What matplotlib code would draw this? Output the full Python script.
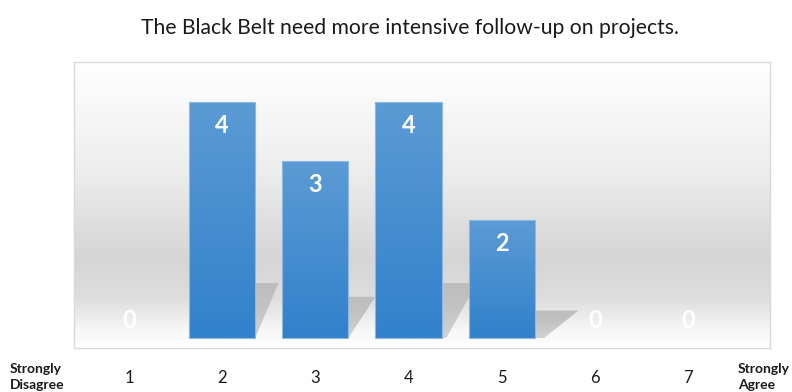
import matplotlib
matplotlib.use("Agg")
import matplotlib.pyplot as plt
import numpy as np
from matplotlib.colors import LinearSegmentedColormap
from matplotlib.patches import Polygon, Rectangle

plt.rcParams["font.family"] = ["Lato", "DejaVu Sans"]

title = "The Black Belt need more intensive follow-up on projects."
scores = [1, 2, 3, 4, 5, 6, 7]
counts = [0, 4, 3, 4, 2, 0, 0]
low_label = "Strongly\nDisagree"
high_label = "Strongly\nAgree"

_FRAME = "#d9d9d9"
_TXT = "#1a1a1a"

fig = plt.figure(figsize=(7.92, 3.92), dpi=100)
ax = fig.add_axes([74 / 792, 1 - 348 / 392, (770 - 74) / 792, (348 - 62) / 392])

ax.set_xlim(0.41, 7.88)
ax.set_ylim(-10 / 59, (338 - 62) / 59)

# background: white at top, grey band low down, white again at the floor
bg = LinearSegmentedColormap.from_list(
    "bg", [(0.0, "#ffffff"), (0.06, "#f7f7f7"), (0.17, "#dedede"),
           (0.31, "#d5d5d5"), (0.62, "#ededed"), (1.0, "#ffffff")])
grad = np.linspace(0, 1, 256).reshape(-1, 1)
ax.imshow(grad, cmap=bg, origin="lower", extent=[0, 1, 0, 1],
          transform=ax.transAxes, aspect="auto", zorder=0)

shadow_cmap = LinearSegmentedColormap.from_list(
    "sh", [(0.0, "#d2d2d2"), (0.6, "#c2c2c2"), (1.0, "#bdbdbd")])
bar_cmap = LinearSegmentedColormap.from_list("bar", ["#3181cb", "#5b9bd5"])
width = 0.71
for x, h in zip(scores, counts):
    if h > 0:
        # floor shadow cast back to the right
        sh = 0.233 * h
        off = max(0.0, 0.05 * (x - 3))
        dx = 0.25 + 0.04 * (x - 2)
        xl, xr = x - width / 2, x + width / 2
        shadow = Polygon([(xl + off, 0), (xr + off, 0),
                          (xr + off + dx, sh), (xl + off + dx, sh)],
                         closed=True, facecolor="none", edgecolor="none",
                         zorder=1)
        ax.add_patch(shadow)
        sim = ax.imshow(np.linspace(0, 1, 64).reshape(-1, 1), cmap=shadow_cmap,
                        origin="lower", extent=[xl, xr + off + dx, 0, sh],
                        aspect="auto", zorder=1)
        sim.set_clip_path(shadow)
for x, h in zip(scores, counts):
    if h > 0:
        xl, xr = x - width / 2, x + width / 2
        im = ax.imshow(np.linspace(0, 1, 128).reshape(-1, 1), cmap=bar_cmap,
                       origin="lower", extent=[xl, xr, 0, h],
                       aspect="auto", zorder=2)
        rect = Rectangle((xl, 0), width, h, facecolor="none",
                         edgecolor="#8fb8e0", lw=0.8, zorder=3)
        ax.add_patch(rect)
        im.set_clip_path(rect)
    ax.text(x, max(h - 0.4, 0.3), str(h), ha="center", va="center",
            color="white", fontsize=17, fontweight="bold", zorder=4)

ax.set_xlim(0.41, 7.88)
ax.set_ylim(-10 / 59, (338 - 62) / 59)
ax.set_xticks(scores)
ax.set_xticklabels([str(s) for s in scores], fontsize=12, color=_TXT)
ax.set_yticks([])
ax.tick_params(axis="x", length=0, pad=16)
for s in ax.spines.values():
    s.set_color(_FRAME)
    s.set_linewidth(1.0)

fig.text(410 / 792, 1 - 28 / 392, title, ha="center", va="center",
         fontsize=15.2, color=_TXT)
fig.text(10 / 792, 1 - 377 / 392, low_label, ha="left", va="center",
         fontsize=10, fontweight="bold", color=_TXT, linespacing=1.45)
fig.text(738 / 792, 1 - 377 / 392, high_label, ha="left", va="center",
         fontsize=10, fontweight="bold", color=_TXT, linespacing=1.45)

fig.savefig("out.png", dpi=100, facecolor="white")
